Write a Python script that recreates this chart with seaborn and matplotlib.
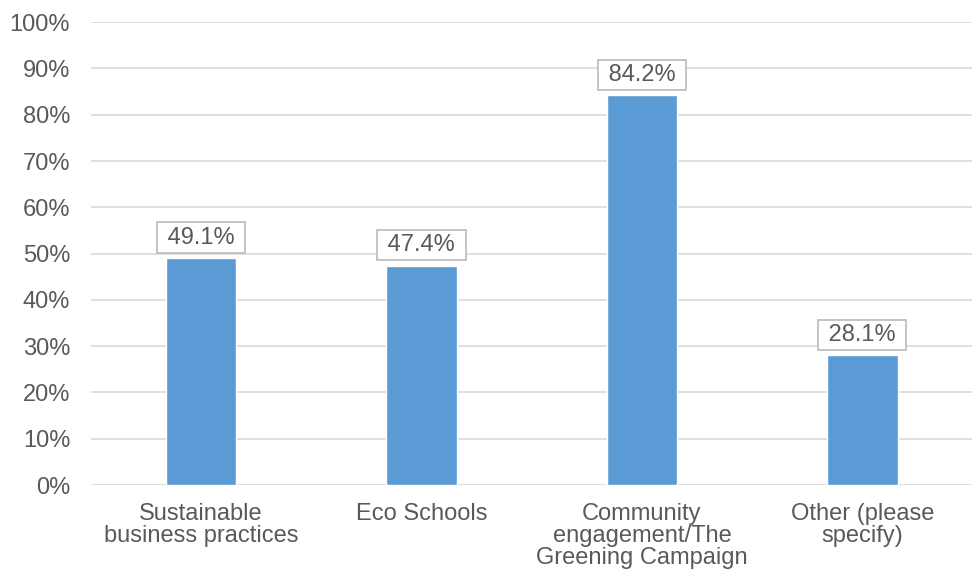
import pandas as pd
import numpy as np
import matplotlib.pyplot as plt
import seaborn as sns

categories = ['Sustainable\nbusiness practices', 'Eco Schools',
              'Community\nengagement/The\nGreening Campaign', 'Other (please\nspecify)']
values = [49.1, 47.4, 84.2, 28.1]
yticks = [0, 10, 20, 30, 40, 50, 60, 70, 80, 90, 100]

df = pd.DataFrame({'cat': categories, 'val': values})

sns.set_style("white")
plt.rcParams['font.family'] = ['Liberation Sans', 'DejaVu Sans']

fig = plt.figure(figsize=(9.74, 5.83), dpi=100)
ax = fig.add_axes([0.0934, 0.168, 0.905, 0.794])
sns.barplot(data=df, x='cat', y='val', color='#5B9BD5', saturation=1,
            width=0.32, ax=ax, zorder=3)

ax.set_ylim(0, 100)
ax.set_xlim(-0.5, 3.5)
ax.set_yticks(yticks)
ax.set_yticklabels([f'{t}%' for t in yticks])
ax.yaxis.grid(True, color='#D9D9D9', linewidth=1.2, zorder=0)
ax.set_axisbelow(True)
for s in ax.spines.values():
    s.set_visible(False)
ax.tick_params(axis='both', length=0, labelsize=17, colors='#595959')
ax.tick_params(axis='y', pad=15)
ax.tick_params(axis='x', pad=13)
for lab in ax.get_xticklabels():
    lab.set_linespacing(1.0)
ax.set_xlabel('')
ax.set_ylabel('')

for i, v in enumerate(values):
    ax.text(i, v + 2.0, f' {v}% ', ha='center', va='bottom', fontsize=17,
            color='#595959', zorder=5,
            bbox=dict(boxstyle='square,pad=0.17', fc='white', ec='#BFBFBF', lw=1.3))

plt.savefig('out.png', dpi=100)
